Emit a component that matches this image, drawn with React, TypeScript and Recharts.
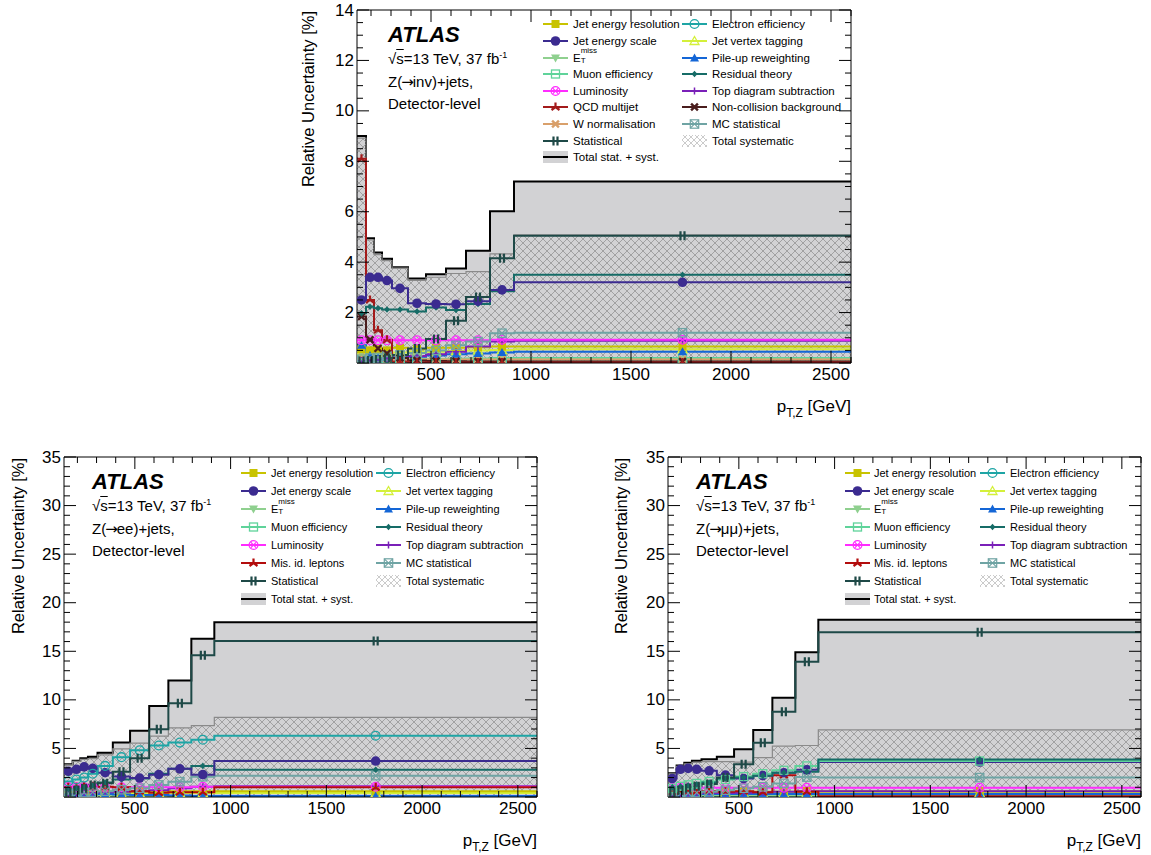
import React from "react";
import { ComposedChart, Line, Area, XAxis, YAxis } from "recharts";

const FONT = '"Liberation Sans", Arial, Helvetica, sans-serif';

// p_T,Z bin edges [GeV]
const binEdges = [130, 175, 215, 255, 305, 385, 475, 575, 675, 795, 915, 2600];
const xTicks = [200, 300, 400, 500, 600, 700, 800, 900, 1000, 1100, 1200, 1300, 1400, 1500, 1600, 1700, 1800, 1900, 2000, 2100, 2200, 2300, 2400, 2500, 2600];
const xLabels = [500, 1000, 1500, 2000, 2500];
const yTicksInv = [0, 0.5, 1, 1.5, 2, 2.5, 3, 3.5, 4, 4.5, 5, 5.5, 6, 6.5, 7, 7.5, 8, 8.5, 9, 9.5, 10, 10.5, 11, 11.5, 12, 12.5, 13, 13.5, 14];
const yLabelsInv = [2, 4, 6, 8, 10, 12, 14];
const yTicksLep = [0, 1, 2, 3, 4, 5, 6, 7, 8, 9, 10, 11, 12, 13, 14, 15, 16, 17, 18, 19, 20, 21, 22, 23, 24, 25, 26, 27, 28, 29, 30, 31, 32, 33, 34, 35];
const yLabelsLep = [5, 10, 15, 20, 25, 30, 35];

// Z(->inv)+jets
const invTotal = [9.0, 4.95, 4.38, 4.13, 3.8, 3.35, 3.52, 3.75, 4.45, 6.02, 7.2];
const invSyst = [8.92, 4.88, 4.3, 4.06, 3.76, 3.28, 3.4, 3.55, 3.62, 4.33, 5.08];
const invStat = [0.08, 0.1, 0.14, 0.2, 0.32, 0.58, 0.95, 1.68, 2.62, 4.15, 5.05];
const invJes = [2.5, 3.4, 3.4, 3.27, 2.96, 2.37, 2.34, 2.33, 2.45, 2.9, 3.2];
const invResid = [1.97, 2.23, 2.17, 2.12, 2.12, 2.04, 2.2, 2.1, 2.34, 2.85, 3.5];
const invQcd = [8.1, 2.5, 1.3, 0.92, 0.06, 0.03, 0.02, 0.02, 0.02, 0.02, 0.02];
const invNonColl = [1.84, 0.92, 0.58, 0.38, 0.2, 0.1, 0.08, 0.07, 0.06, 0.06, 0.06];
const invLumi = [0.9, 0.9, 0.9, 0.9, 0.9, 0.9, 0.9, 0.9, 0.9, 0.92, 0.92];
const invTopDiag = [0.1, 0.12, 0.15, 0.18, 0.22, 0.28, 0.35, 0.45, 0.65, 0.85, 0.88];
const invMcStat = [0.15, 0.2, 0.22, 0.28, 0.32, 0.4, 0.5, 0.7, 0.85, 1.18, 1.2];
const invJer = [0.55, 0.5, 0.55, 0.5, 0.6, 0.55, 0.6, 0.6, 0.62, 0.65, 0.65];
const invJvt = [0.45, 0.4, 0.4, 0.42, 0.42, 0.45, 0.45, 0.48, 0.5, 0.52, 0.55];
const invPileup = [0.7, 0.3, 0.2, 0.22, 0.25, 0.25, 0.3, 0.35, 0.38, 0.42, 0.45];
const invElEff = [0.03, 0.03, 0.03, 0.04, 0.04, 0.04, 0.05, 0.05, 0.05, 0.05, 0.05];
const invMuEff = [0.12, 0.12, 0.13, 0.14, 0.15, 0.15, 0.16, 0.17, 0.18, 0.2, 0.2];
const invMet = [0.35, 0.3, 0.25, 0.22, 0.2, 0.18, 0.15, 0.15, 0.15, 0.15, 0.15];
const invWNorm = [0.25, 0.2, 0.18, 0.16, 0.15, 0.14, 0.14, 0.14, 0.14, 0.14, 0.14];

// Z(->ee)+jets
const eeTotal = [3.36, 3.74, 3.98, 4.15, 4.56, 5.6, 6.83, 9.37, 11.98, 16.3, 18.0];
const eeSyst = [3.31, 3.67, 3.88, 3.96, 4.34, 4.96, 5.55, 6.27, 7.12, 7.35, 8.2];
const eeStat = [0.55, 0.72, 0.9, 1.23, 1.41, 2.6, 3.98, 6.97, 9.64, 14.6, 16.06];
const eeElEff = [1.6, 1.8, 2.0, 2.4, 3.2, 4.1, 4.8, 5.3, 5.6, 5.9, 6.3];
const eeJes = [2.65, 2.85, 3.1, 2.95, 2.5, 2.1, 1.95, 2.3, 2.9, 2.3, 3.7];
const eeResid = [0.8, 0.9, 1.0, 1.2, 1.5, 1.8, 1.9, 2.4, 2.9, 3.2, 2.8];
const eeMcStat = [0.35, 0.4, 0.45, 0.5, 0.6, 0.75, 0.9, 1.24, 1.58, 2.09, 2.2];
const eeLumi = [1.0, 1.0, 1.0, 1.0, 1.0, 1.0, 1.0, 1.0, 1.0, 1.05, 1.05];
const eeMisId = [1.0, 1.0, 1.05, 1.1, 1.05, 1.0, 0.6, 0.45, 0.5, 0.5, 1.0];
const eeTopDiag = [0.3, 0.35, 0.4, 0.45, 0.5, 0.55, 0.6, 0.7, 0.9, 1.06, 1.1];
const eeJer = [0.5, 0.45, 0.5, 0.5, 0.55, 0.5, 0.55, 0.55, 0.6, 0.6, 0.6];
const eeJvt = [0.3, 0.3, 0.3, 0.32, 0.35, 0.35, 0.38, 0.4, 0.4, 0.4, 0.4];
const eePileup = [0.5, 0.35, 0.3, 0.3, 0.3, 0.25, 0.2, 0.2, 0.15, 0.1, 0.1];
const eeMet = [0.2, 0.2, 0.15, 0.15, 0.12, 0.1, 0.1, 0.1, 0.1, 0.1, 0.1];
const eeMuEff = [0.04, 0.04, 0.04, 0.04, 0.04, 0.04, 0.04, 0.04, 0.04, 0.04, 0.04];

// Z(->mumu)+jets
const mmTotal = [2.44, 3.23, 3.53, 3.74, 3.88, 4.15, 4.91, 6.9, 10.22, 14.9, 18.25];
const mmSyst = [2.39, 3.15, 3.41, 3.57, 3.64, 3.64, 3.58, 4.05, 5.23, 5.3, 6.9];
const mmStat = [0.5, 0.7, 0.9, 1.1, 1.35, 2.0, 3.36, 5.59, 8.78, 13.93, 16.95];
const mmJes = [1.9, 2.85, 2.95, 2.85, 2.7, 2.25, 1.9, 2.2, 2.5, 2.8, 3.6];
const mmResid = [1.0, 1.1, 1.2, 1.3, 1.5, 1.9, 2.0, 2.2, 2.5, 2.6, 3.85];
const mmMuEff = [0.9, 1.1, 1.25, 1.4, 1.6, 1.8, 2.1, 2.4, 2.75, 3.2, 3.7];
const mmMcStat = [0.3, 0.35, 0.4, 0.45, 0.55, 0.7, 0.9, 1.05, 1.4, 2.05, 2.0];
const mmMisId = [0.5, 0.55, 0.6, 0.6, 0.6, 0.55, 0.6, 0.5, 2.25, 0.55, 0.08];
const mmLumi = [0.95, 0.95, 0.95, 0.95, 0.95, 0.95, 0.95, 0.95, 0.95, 0.95, 0.95];
const mmTopDiag = [0.3, 0.3, 0.35, 0.35, 0.4, 0.4, 0.45, 0.5, 0.55, 0.6, 0.6];
const mmJer = [0.5, 0.5, 0.45, 0.5, 0.5, 0.5, 0.55, 0.55, 0.55, 0.6, 0.6];
const mmJvt = [0.3, 0.3, 0.3, 0.3, 0.32, 0.32, 0.35, 0.35, 0.38, 0.4, 0.4];
const mmPileup = [0.4, 0.35, 0.3, 0.3, 0.3, 0.3, 0.3, 0.3, 0.3, 0.3, 0.3];
const mmMet = [0.25, 0.22, 0.2, 0.2, 0.18, 0.15, 0.15, 0.15, 0.12, 0.12, 0.12];
const mmElEff = [0.04, 0.04, 0.04, 0.04, 0.04, 0.04, 0.04, 0.04, 0.04, 0.04, 0.04];

const EtMiss = () => (
  <span>
    E
    <span style={{ display: "inline-block", position: "relative", width: 18, height: 10 }}>
      <span style={{ position: "absolute", left: 0, top: -8, fontSize: 8 }}>miss</span>
      <span style={{ position: "absolute", left: 0, top: 2, fontSize: 8 }}>T</span>
    </span>
  </span>
);

const STYLE: Record<string, { label: React.ReactNode; color: string; marker: string }> = {
  jer: { label: "Jet energy resolution", color: "#c8c300", marker: "square" },
  jes: { label: "Jet energy scale", color: "#3b2b90", marker: "circle" },
  met: { label: <EtMiss />, color: "#8fd08f", marker: "tdown" },
  muEff: { label: "Muon efficiency", color: "#5fd39a", marker: "osquare" },
  lumi: { label: "Luminosity", color: "#ff2cff", marker: "lumi" },
  qcd: { label: "QCD multijet", color: "#a31b1b", marker: "tri3" },
  misId: { label: "Mis. id. leptons", color: "#b30d0d", marker: "tri3" },
  wNorm: { label: "W normalisation", color: "#d9a06b", marker: "xstar" },
  stat: { label: "Statistical", color: "#1e4947", marker: "hash" },
  elEff: { label: "Electron efficiency", color: "#1ea5a5", marker: "ocircle" },
  jvt: { label: "Jet vertex tagging", color: "#d4f03a", marker: "otri" },
  pileup: { label: "Pile-up reweighting", color: "#1466d6", marker: "tri" },
  resid: { label: "Residual theory", color: "#166c67", marker: "diamond" },
  topDiag: { label: "Top diagram subtraction", color: "#7a20b8", marker: "plus" },
  nonColl: { label: "Non-collision background", color: "#4a1d1d", marker: "x" },
  mcStat: { label: "MC statistical", color: "#6fa4a4", marker: "oxsquare" },
};

function Marker({ kind, cx, cy, color }: { kind: string; cx: number; cy: number; color: string }) {
  if (cx == null || cy == null || isNaN(cx) || isNaN(cy)) return <g />;
  const x = (a: number, b: number, s: number) =>
    `M${a - s},${b - s}L${a + s},${b + s}M${a + s},${b - s}L${a - s},${b + s}`;
  switch (kind) {
    case "square":
      return <rect x={cx - 4} y={cy - 4} width={8} height={8} fill={color} />;
    case "circle":
      return <circle cx={cx} cy={cy} r={4.8} fill={color} />;
    case "ocircle":
      return <circle cx={cx} cy={cy} r={4.4} fill="none" stroke={color} strokeWidth={1.3} />;
    case "osquare":
      return <rect x={cx - 4} y={cy - 4} width={8} height={8} fill="none" stroke={color} strokeWidth={1.3} />;
    case "oxsquare":
      return (
        <g fill="none" stroke={color} strokeWidth={1.2}>
          <rect x={cx - 4.2} y={cy - 4.2} width={8.4} height={8.4} />
          <path d={x(cx, cy, 4.2)} />
        </g>
      );
    case "tdown":
      return <path d={`M${cx - 4.5},${cy - 3.5}L${cx + 4.5},${cy - 3.5}L${cx},${cy + 4.5}Z`} fill={color} />;
    case "tri":
      return <path d={`M${cx - 4.5},${cy + 3.5}L${cx + 4.5},${cy + 3.5}L${cx},${cy - 4.5}Z`} fill={color} />;
    case "otri":
      return <path d={`M${cx - 4.5},${cy + 3.5}L${cx + 4.5},${cy + 3.5}L${cx},${cy - 4.5}Z`} fill="none" stroke={color} strokeWidth={1.3} />;
    case "lumi":
      return (
        <g fill="none" stroke={color} strokeWidth={1.2}>
          <circle cx={cx} cy={cy} r={4.4} />
          <path d={x(cx, cy, 2.8)} />
        </g>
      );
    case "tri3":
      return <path d={`M${cx},${cy}L${cx},${cy - 4.5}M${cx},${cy}L${cx - 4},${cy + 3}M${cx},${cy}L${cx + 4},${cy + 3}`} stroke={color} strokeWidth={2.2} />;
    case "xstar":
    case "x":
      return <path d={x(cx, cy, 3.4)} stroke={color} strokeWidth={2.4} />;
    case "hash":
      return <path d={`M${cx - 2},${cy - 4.5}L${cx - 2},${cy + 4.5}M${cx + 2},${cy - 4.5}L${cx + 2},${cy + 4.5}`} stroke={color} strokeWidth={2.2} />;
    case "diamond":
      return <path d={`M${cx},${cy - 3.3}L${cx + 3},${cy}L${cx},${cy + 3.3}L${cx - 3},${cy}Z`} fill={color} />;
    case "plus":
      return <path d={`M${cx - 3.5},${cy}L${cx + 3.5},${cy}M${cx},${cy - 3.5}L${cx},${cy + 3.5}`} stroke={color} strokeWidth={1.5} />;
    default:
      return <g />;
  }
}

type Geom = { left: number; right: number; top: number; bottom: number };
type Series = { key: string; values: number[] };
type LegendGeom = { c1: number; t1: number; c2: number; t2: number; y0: number; dy: number; fs: number };

const YW = 50;
const XH = 45;
const TH = 1;
const RW = 1;
const MT = 14;
const MR = 1;

function LegendEntry({ k, sx, tx, y, fs }: { k: string; sx: number; tx: number; y: number; fs: number }) {
  let sample: React.ReactNode;
  let label: React.ReactNode;
  if (k === "total") {
    sample = (
      <>
        <rect x={0} y={1} width={25} height={12} fill="#d2d2d4" />
        <line x1={0} x2={25} y1={7} y2={7} stroke="#000" strokeWidth={2} />
      </>
    );
    label = "Total stat. + syst.";
  } else if (k === "syst") {
    sample = <rect x={0} y={1} width={25} height={12} fill="url(#hatchLegend)" />;
    label = "Total systematic";
  } else {
    const s = STYLE[k];
    sample = (
      <>
        <line x1={0} x2={25} y1={7} y2={7} stroke={s.color} strokeWidth={2} />
        <Marker kind={s.marker} cx={12.5} cy={7} color={s.color} />
      </>
    );
    label = s.label;
  }
  return (
    <>
      <svg width={25} height={14} style={{ position: "absolute", left: sx, top: y - 7 }}>
        {sample}
      </svg>
      <div style={{ position: "absolute", left: tx, top: y - 7, height: 14, lineHeight: "14px", fontSize: fs, whiteSpace: "nowrap", color: "#000" }}>
        {label}
      </div>
    </>
  );
}

const Arrow = () => (
  <span style={{ fontFamily: '"DejaVu Sans", sans-serif', fontSize: 15, margin: "0 -1px" }}>→</span>
);

function Panel(props: {
  geom: Geom;
  yMax: number;
  yTicks: number[];
  yLabels: number[];
  yMajor: number;
  total: number[];
  syst: number[];
  series: Series[];
  legendL: string[];
  legendR: string[];
  lg: LegendGeom;
  procA: string;
  procB: string;
  atlasX: number;
  yTitleX: number;
}) {
  const { geom, yMax, yTicks, yLabels, yMajor, total, syst, series, legendL, legendR, lg, procA, procB, atlasX, yTitleX } = props;
  const plotW = geom.right - geom.left;
  const plotH = geom.bottom - geom.top;
  const W = YW + plotW + RW + MR;
  const H = MT + TH + plotH + XH;
  const L = { left: YW, right: YW + plotW, top: MT + TH, bottom: MT + TH + plotH };
  const nb = binEdges.length - 1;

  const rows = binEdges.map((e, i) => {
    const j = Math.min(i, nb - 1);
    const r: Record<string, number> = { x: e, tot: total[j], syst: syst[j] };
    series.forEach((s) => (r[s.key] = s.values[j]));
    return r;
  });
  const centers = binEdges.slice(0, nb).map((e, i) => {
    const r: Record<string, number> = { x: (e + binEdges[i + 1]) / 2 };
    series.forEach((s) => (r[s.key] = s.values[i]));
    return r;
  });

  const tickFont = { fontSize: 17, fontFamily: FONT, fill: "#000" };

  const bottomTick = (p: any) => {
    const v = p.payload.value;
    const x = p.payload.coordinate ?? p.x;
    const major = v % 500 === 0;
    return (
      <g key={`b${v}`}>
        <line x1={x} x2={x} y1={L.bottom} y2={L.bottom - (major ? 12 : 6)} stroke="#000" />
        {xLabels.includes(v) && (
          <text x={x} y={L.bottom + 11} textAnchor="middle" dominantBaseline="central" {...tickFont}>
            {v}
          </text>
        )}
      </g>
    );
  };
  const topTick = (p: any) => {
    const v = p.payload.value;
    const x = p.payload.coordinate ?? p.x;
    const major = v % 500 === 0;
    return <line key={`t${v}`} x1={x} x2={x} y1={L.top} y2={L.top + (major ? 12 : 6)} stroke="#000" />;
  };
  const leftTick = (p: any) => {
    const v = p.payload.value;
    const y = p.payload.coordinate ?? p.y;
    const major = v % yMajor === 0;
    return (
      <g key={`l${v}`}>
        <line x1={L.left} x2={L.left + (major ? 12 : 6)} y1={y} y2={y} stroke="#000" />
        {yLabels.includes(v) && (
          <text x={L.left - 3} y={y} textAnchor="end" dominantBaseline="central" {...tickFont}>
            {v}
          </text>
        )}
      </g>
    );
  };
  const rightTick = (p: any) => {
    const v = p.payload.value;
    const y = p.payload.coordinate ?? p.y;
    const major = v % yMajor === 0;
    return <line key={`r${v}`} x1={L.right} x2={L.right - (major ? 12 : 6)} y1={y} y2={y} stroke="#000" />;
  };

  const textBase: React.CSSProperties = { position: "absolute", left: atlasX, whiteSpace: "nowrap", color: "#000" };

  return (
    <>
      <div style={{ position: "absolute", left: geom.left - YW, top: geom.top - MT - TH, width: W, height: H }}>
        <ComposedChart width={W} height={H} data={rows} margin={{ top: MT, right: MR, left: 0, bottom: 0 }}>
          <XAxis dataKey="x" type="number" domain={[130, 2600]} allowDataOverflow ticks={xTicks} interval={0} height={XH} tick={bottomTick} tickLine={false} axisLine={{ stroke: "#000", strokeWidth: 1 }} />
          <XAxis xAxisId="top" orientation="top" dataKey="x" type="number" domain={[130, 2600]} allowDataOverflow ticks={xTicks} interval={0} height={TH} tick={topTick} tickLine={false} axisLine={{ stroke: "#000", strokeWidth: 1 }} />
          <YAxis type="number" domain={[0, yMax]} allowDataOverflow ticks={yTicks} interval={0} width={YW} tick={leftTick} tickLine={false} axisLine={{ stroke: "#000", strokeWidth: 1 }} />
          <YAxis yAxisId="right" orientation="right" type="number" domain={[0, yMax]} allowDataOverflow ticks={yTicks} interval={0} width={RW} tick={rightTick} tickLine={false} axisLine={{ stroke: "#000", strokeWidth: 1 }} />
          <Area type="stepAfter" dataKey="tot" stroke="#000" strokeWidth={2} fill="#d2d2d4" fillOpacity={1} dot={false} activeDot={false} isAnimationActive={false} />
          <Area type="stepAfter" dataKey="syst" stroke="#8a8a8a" strokeWidth={1.2} fill="url(#hatch)" fillOpacity={1} dot={false} activeDot={false} isAnimationActive={false} />
          {series.map((s) => (
            <Line key={`l-${s.key}`} type="stepAfter" dataKey={s.key} stroke={STYLE[s.key].color} strokeWidth={2} dot={false} activeDot={false} isAnimationActive={false} />
          ))}
          {series.map((s) => (
            <Line
              key={`m-${s.key}`}
              data={centers}
              dataKey={s.key}
              stroke="none"
              activeDot={false}
              isAnimationActive={false}
              dot={(p: any) => <Marker key={`${s.key}-${p.index}`} kind={STYLE[s.key].marker} cx={p.cx} cy={p.cy} color={STYLE[s.key].color} />}
            />
          ))}
        </ComposedChart>
      </div>

      <svg width={1151} height={855} style={{ position: "absolute", left: 0, top: 0, pointerEvents: "none" }}>
        <text transform={`translate(${yTitleX},${geom.top + 1}) rotate(-90)`} textAnchor="end" dominantBaseline="central" fontSize={16.5} fontFamily={FONT} fill="#000">
          Relative Uncertainty [%]
        </text>
      </svg>

      <div style={{ position: "absolute", left: geom.right - 160, width: 160, top: geom.bottom + 35, textAlign: "right", fontSize: 17, lineHeight: "17px", whiteSpace: "nowrap" }}>
        p<span style={{ fontSize: 12, position: "relative", top: 5 }}>T,Z</span> [GeV]
      </div>

      <div style={{ ...textBase, top: geom.top + 14, fontSize: 22, lineHeight: "22px", fontWeight: "bold", fontStyle: "italic" }}>ATLAS</div>
      <div style={{ ...textBase, top: geom.top + 41, fontSize: 15, lineHeight: "15px" }}>
        √<span style={{ textDecoration: "overline" }}>s</span>=13 TeV, 37 fb
        <span style={{ fontSize: 9, position: "relative", top: -6 }}>-1</span>
      </div>
      <div style={{ ...textBase, top: geom.top + 64, fontSize: 15, lineHeight: "15px" }}>
        {procA}
        <Arrow />
        {procB}
      </div>
      <div style={{ ...textBase, top: geom.top + 86, fontSize: 15, lineHeight: "15px" }}>Detector-level</div>

      {legendL.map((k, i) => (
        <LegendEntry key={`L${k}`} k={k} sx={lg.c1} tx={lg.t1} y={lg.y0 + i * lg.dy} fs={lg.fs} />
      ))}
      {legendR.map((k, i) => (
        <LegendEntry key={`R${k}`} k={k} sx={lg.c2} tx={lg.t2} y={lg.y0 + i * lg.dy} fs={lg.fs} />
      ))}
    </>
  );
}

const invSeries: Series[] = [
  { key: "elEff", values: invElEff },
  { key: "muEff", values: invMuEff },
  { key: "met", values: invMet },
  { key: "wNorm", values: invWNorm },
  { key: "jvt", values: invJvt },
  { key: "jer", values: invJer },
  { key: "pileup", values: invPileup },
  { key: "topDiag", values: invTopDiag },
  { key: "lumi", values: invLumi },
  { key: "mcStat", values: invMcStat },
  { key: "nonColl", values: invNonColl },
  { key: "qcd", values: invQcd },
  { key: "resid", values: invResid },
  { key: "jes", values: invJes },
  { key: "stat", values: invStat },
];

const eeSeries: Series[] = [
  { key: "muEff", values: eeMuEff },
  { key: "met", values: eeMet },
  { key: "jvt", values: eeJvt },
  { key: "jer", values: eeJer },
  { key: "pileup", values: eePileup },
  { key: "topDiag", values: eeTopDiag },
  { key: "lumi", values: eeLumi },
  { key: "misId", values: eeMisId },
  { key: "mcStat", values: eeMcStat },
  { key: "resid", values: eeResid },
  { key: "jes", values: eeJes },
  { key: "elEff", values: eeElEff },
  { key: "stat", values: eeStat },
];

const mmSeries: Series[] = [
  { key: "elEff", values: mmElEff },
  { key: "met", values: mmMet },
  { key: "jvt", values: mmJvt },
  { key: "jer", values: mmJer },
  { key: "pileup", values: mmPileup },
  { key: "topDiag", values: mmTopDiag },
  { key: "lumi", values: mmLumi },
  { key: "misId", values: mmMisId },
  { key: "mcStat", values: mmMcStat },
  { key: "jes", values: mmJes },
  { key: "muEff", values: mmMuEff },
  { key: "resid", values: mmResid },
  { key: "stat", values: mmStat },
];

export default function App() {
  return (
    <div style={{ position: "absolute", left: 0, top: 0, width: 1151, height: 855, background: "#fff", fontFamily: FONT, overflow: "hidden" }}>
      <svg width={0} height={0} style={{ position: "absolute" }}>
        <defs>
          <pattern id="hatch" width={8} height={8} patternUnits="userSpaceOnUse">
            <path d="M0,0L8,8M8,0L0,8" stroke="#8c8c8c" strokeWidth={0.7} />
          </pattern>
          <pattern id="hatchLegend" width={6} height={6} patternUnits="userSpaceOnUse">
            <path d="M0,0L6,6M6,0L0,6" stroke="#b5b5b5" strokeWidth={0.7} />
          </pattern>
        </defs>
      </svg>
      <Panel
        geom={{ left: 357, right: 851, top: 10, bottom: 363 }}
        yMax={14}
        yTicks={yTicksInv}
        yLabels={yLabelsInv}
        yMajor={2}
        total={invTotal}
        syst={invSyst}
        series={invSeries}
        legendL={["jer", "jes", "met", "muEff", "lumi", "qcd", "wNorm", "stat", "total"]}
        legendR={["elEff", "jvt", "pileup", "resid", "topDiag", "nonColl", "mcStat", "syst"]}
        lg={{ c1: 543, t1: 573, c2: 682, t2: 712, y0: 24.3, dy: 16.6, fs: 11.5 }}
        procA="Z("
        procB="inv)+jets,"
        atlasX={388}
        yTitleX={308}
      />
      <Panel
        geom={{ left: 64, right: 537, top: 457, bottom: 797 }}
        yMax={35}
        yTicks={yTicksLep}
        yLabels={yLabelsLep}
        yMajor={5}
        total={eeTotal}
        syst={eeSyst}
        series={eeSeries}
        legendL={["jer", "jes", "met", "muEff", "lumi", "misId", "stat", "total"]}
        legendR={["elEff", "jvt", "pileup", "resid", "topDiag", "mcStat", "syst"]}
        lg={{ c1: 241, t1: 271, c2: 376, t2: 406, y0: 473.3, dy: 18, fs: 11 }}
        procA="Z("
        procB="ee)+jets,"
        atlasX={92}
        yTitleX={17.5}
      />
      <Panel
        geom={{ left: 668, right: 1141, top: 457, bottom: 797 }}
        yMax={35}
        yTicks={yTicksLep}
        yLabels={yLabelsLep}
        yMajor={5}
        total={mmTotal}
        syst={mmSyst}
        series={mmSeries}
        legendL={["jer", "jes", "met", "muEff", "lumi", "misId", "stat", "total"]}
        legendR={["elEff", "jvt", "pileup", "resid", "topDiag", "mcStat", "syst"]}
        lg={{ c1: 845, t1: 874, c2: 980, t2: 1010, y0: 473.3, dy: 18, fs: 11 }}
        procA="Z("
        procB="μμ)+jets,"
        atlasX={696}
        yTitleX={621}
      />
    </div>
  );
}
